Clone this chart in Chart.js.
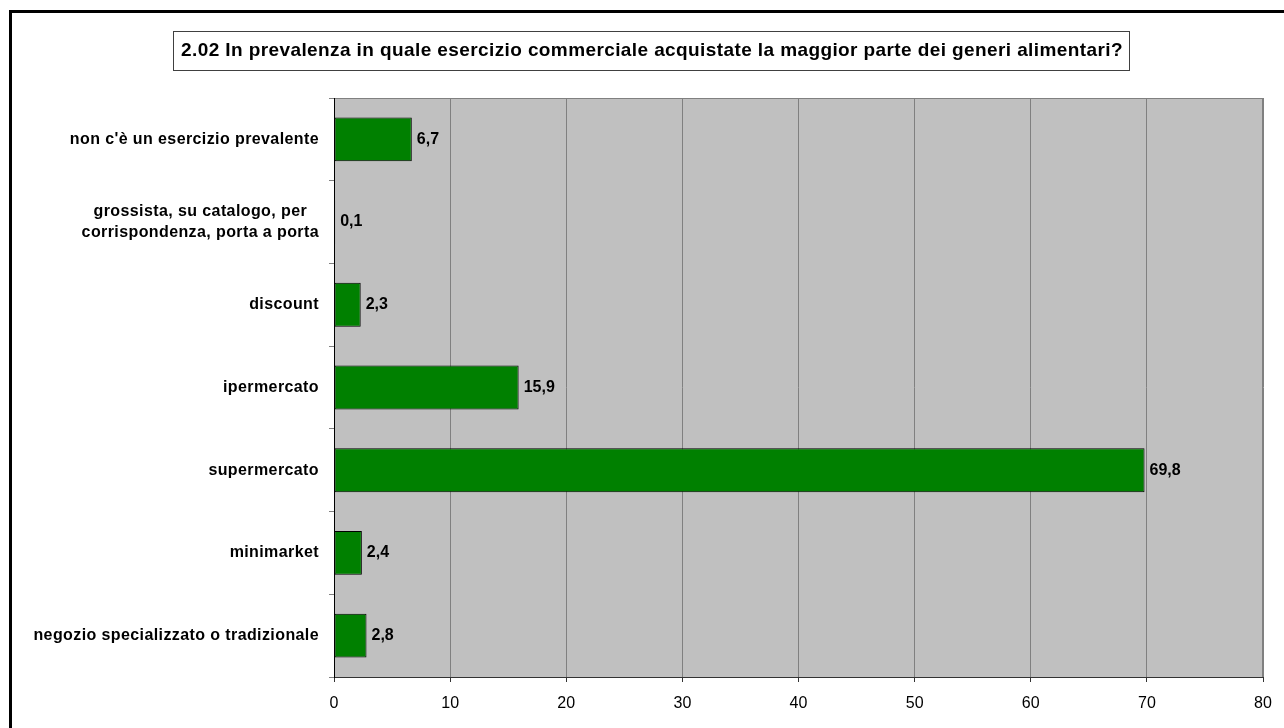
<!DOCTYPE html>
<html>
<head>
<meta charset="utf-8">
<script src="https://cdn.jsdelivr.net/npm/chart.js@4/dist/chart.umd.min.js"></script>
<style>
  html, body { margin: 0; padding: 0; background: #fff; overflow: hidden; }
  #wrap { position: relative; width: 1284px; height: 728px; }
  #frame {
    position: absolute; left: 9px; top: 10px; width: 1400px; height: 800px;
    border-left: 3px solid #000; border-top: 3px solid #000;
    pointer-events: none;
  }
</style>
</head>
<body>
<div id="wrap">
  <canvas id="shop-chart" width="1284" height="728"></canvas>
  <div id="frame"></div>
</div>
<script>
// Chart data
const titleText = "2.02 In prevalenza in quale esercizio commerciale acquistate la maggior parte dei generi alimentari?";
const categories = [
  ["non c'è un esercizio prevalente"],
  ["grossista, su catalogo, per", "corrispondenza, porta a porta"],
  ["discount"],
  ["ipermercato"],
  ["supermercato"],
  ["minimarket"],
  ["negozio specializzato o tradizionale"],
];
const percentages = [6.7, 0.1, 2.3, 15.9, 69.8, 2.4, 2.8];
const xTicks = [0, 10, 20, 30, 40, 50, 60, 70, 80];

const font = "'Liberation Sans', Arial, sans-serif";
const chartCanvas = document.querySelector("#shop-chart");

// Grey plot background and plot border
const plotBackground = {
  id: "plotBackground",
  beforeDraw(chart) {
    const { ctx, chartArea: a } = chart;
    ctx.save();
    ctx.fillStyle = "#C0C0C0";
    ctx.fillRect(a.left, a.top, a.right - a.left, a.bottom - a.top);
    ctx.strokeStyle = "#808080";
    ctx.lineWidth = 1;
    ctx.strokeRect(a.left + 0.5, a.top + 0.5, a.right - a.left - 1, a.bottom - a.top);
    ctx.restore();
  },
};

// Title inside a framed box
const boxedTitle = {
  id: "boxedTitle",
  afterDraw(chart) {
    const { ctx } = chart;
    ctx.save();
    ctx.fillStyle = "#fff";
    ctx.fillRect(173, 31, 956, 39);
    ctx.strokeStyle = "#404040";
    ctx.lineWidth = 1;
    ctx.strokeRect(173.5, 31.5, 956, 39);
    ctx.fillStyle = "#000";
    ctx.font = "bold 19px " + font;
    ctx.letterSpacing = "0.4px";
    ctx.textAlign = "center";
    ctx.textBaseline = "middle";
    ctx.fillText(titleText, 652, 51);
    ctx.restore();
  },
};

// Category labels: each block right-aligned, lines centred within the block
const categoryLabels = {
  id: "categoryLabels",
  afterDraw(chart) {
    const { ctx } = chart;
    const yScale = chart.scales.y;
    const rightEdge = 319;
    const lineHeight = 21;
    ctx.save();
    ctx.fillStyle = "#000";
    ctx.font = "bold 16px " + font;
    ctx.letterSpacing = "0.4px";
    ctx.textAlign = "center";
    ctx.textBaseline = "middle";
    categories.forEach((lines, i) => {
      const y = yScale.getPixelForValue(i);
      const w = Math.max(...lines.map((l) => ctx.measureText(l).width));
      const cx = rightEdge - w / 2;
      const top = y - ((lines.length - 1) * lineHeight) / 2;
      lines.forEach((l, j) => ctx.fillText(l, cx, top + j * lineHeight));
    });
    ctx.restore();
  },
};

// Value labels at the end of each bar
const valueLabels = {
  id: "valueLabels",
  afterDatasetsDraw(chart) {
    const { ctx } = chart;
    const meta = chart.getDatasetMeta(0);
    ctx.save();
    ctx.fillStyle = "#000";
    ctx.font = "bold 16px " + font;
    ctx.textAlign = "left";
    ctx.textBaseline = "middle";
    meta.data.forEach((bar, i) => {
      const text = percentages[i].toFixed(1).replace(".", ",");
      ctx.fillText(text, bar.x + 5, bar.y);
    });
    ctx.restore();
  },
};

new Chart(chartCanvas, {
  type: "bar",
  data: {
    labels: categories.map((l) => l.join(" ")),
    datasets: [
      {
        data: percentages,
        backgroundColor: "#008000",
        borderColor: "#000",
        borderWidth: 1,
        borderSkipped: false,
        categoryPercentage: 1,
        barPercentage: 0.53,
      },
    ],
  },
  options: {
    indexAxis: "y",
    responsive: false,
    animation: false,
    layout: { padding: { top: 98, right: 21, left: 0, bottom: 0 } },
    plugins: {
      legend: { display: false },
      title: { display: false },
      tooltip: { enabled: false },
    },
    scales: {
      x: {
        min: 0,
        max: 80,
        afterBuildTicks: (scale) => {
          scale.ticks = xTicks.map((v) => ({ value: v }));
        },
        afterFit: (scale) => {
          scale.height = 51;
        },
        grid: { color: "#808080", tickLength: 5, tickColor: "#333" },
        border: { color: "#333", width: 1 },
        ticks: {
          color: "#000",
          padding: 12,
          font: { family: font, size: 16 },
        },
      },
      y: {
        afterFit: (scale) => {
          scale.width = 334;
        },
        grid: {
          drawOnChartArea: false,
          tickLength: 5,
          tickColor: "#808080",
          offset: true,
        },
        border: { color: "#000", width: 1 },
        ticks: { display: false },
      },
    },
  },
  plugins: [plotBackground, boxedTitle, categoryLabels, valueLabels],
});
</script>
</body>
</html>
